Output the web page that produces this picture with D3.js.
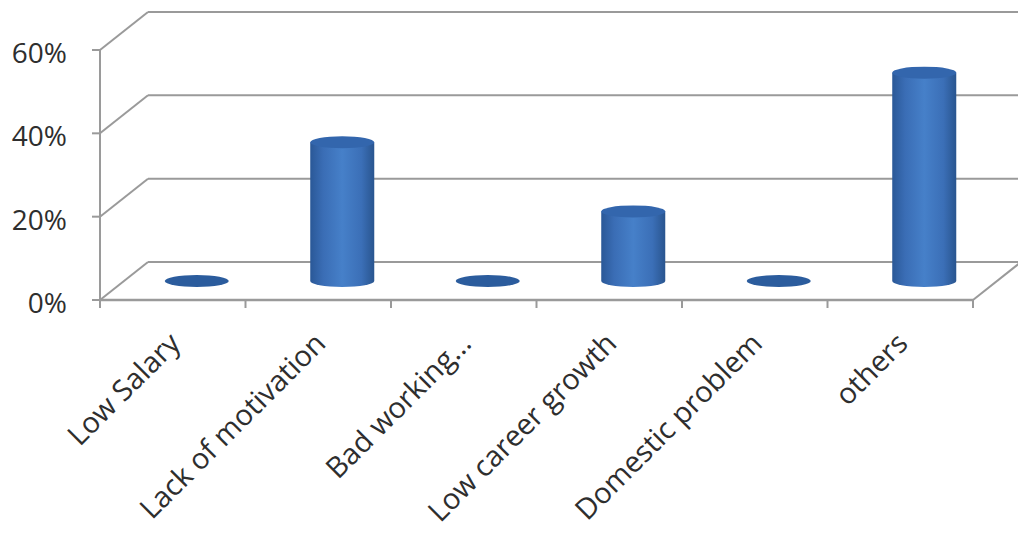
<!DOCTYPE html>
<html>
<head>
<meta charset="utf-8">
<script src="https://cdn.jsdelivr.net/npm/d3@7"></script>
<style>
  html, body { margin: 0; padding: 0; background: #fff; }
  svg { display: block; }
  text { font-family: "Open Sans", "Noto Sans", sans-serif; fill: #2e2e2e; }
</style>
</head>
<body>
<svg id="chart" width="1018" height="544"></svg>
<script>
// Reasons for leaving, share of respondents
const categories = ["Low Salary", "Lack of motivation", "Bad working...", "Low career growth", "Domestic problem", "others"];
const shares = [0, 0.333, 0, 0.167, 0, 0.50];
const yTicks = [0, 0.2, 0.4, 0.6];

const svg = d3.select("#chart");
const W = 1018;

// Front plane of the 3D box and the depth offset of the back wall
const x = d3.scaleBand().domain(categories).range([100, 973]);
const y = d3.scaleLinear().domain([0, 0.6]).range([300, 50]);
const depth = { dx: 48, dy: -38 };
const fmt = d3.format(".0%");

const defs = svg.append("defs");
const bodyGrad = defs.append("linearGradient").attr("id", "cylBody")
  .attr("x1", "0").attr("x2", "1").attr("y1", "0").attr("y2", "0");
[["0%", "#2a5897"], ["20%", "#3a6db5"], ["50%", "#4680c9"], ["80%", "#3b6fb7"], ["100%", "#29558f"]]
  .forEach(([o, c]) => bodyGrad.append("stop").attr("offset", o).attr("stop-color", c));

const gridColor = "#9a9a9a";
const grid = svg.append("g");

// Back wall gridlines and the side-wall diagonals
yTicks.forEach(t => {
  const fy = y(t);
  grid.append("line")
    .attr("x1", x.range()[0] + depth.dx).attr("y1", fy + depth.dy)
    .attr("x2", W + 10).attr("y2", fy + depth.dy)
    .attr("stroke", gridColor).attr("stroke-width", 2);
  grid.append("line")
    .attr("x1", x.range()[0]).attr("y1", fy)
    .attr("x2", x.range()[0] + depth.dx).attr("y2", fy + depth.dy)
    .attr("stroke", gridColor).attr("stroke-width", 2);
});
// Floor right edge
grid.append("line")
  .attr("x1", x.range()[1]).attr("y1", y(0))
  .attr("x2", x.range()[1] + depth.dx).attr("y2", y(0) + depth.dy)
  .attr("stroke", gridColor).attr("stroke-width", 2);

// Value axis
const yAxis = svg.append("g");
yAxis.append("line")
  .attr("x1", x.range()[0]).attr("x2", x.range()[0])
  .attr("y1", y(0.6)).attr("y2", y(0))
  .attr("stroke", gridColor).attr("stroke-width", 2);
yAxis.selectAll("line.tick").data(yTicks).join("line").attr("class", "tick")
  .attr("x1", x.range()[0] - 8).attr("x2", x.range()[0])
  .attr("y1", d => y(d)).attr("y2", d => y(d))
  .attr("stroke", gridColor).attr("stroke-width", 2);
yAxis.selectAll("text").data(yTicks).join("text")
  .attr("x", 67).attr("y", d => y(d) + 3).attr("dy", "0.36em")
  .attr("text-anchor", "end").attr("font-size", 28)
  .text(d => fmt(d));

// Cylinders, standing midway through the depth of the box
const rx = x.bandwidth() * 0.22, ry = 6;
const bars = svg.append("g");
categories.forEach((c, i) => {
  const v = shares[i];
  const cx = x(c) + x.bandwidth() / 2 + depth.dx / 2;
  const yb = y(0) + depth.dy / 2;
  const yt = y(v) + depth.dy / 2;
  if (v > 0) {
    bars.append("path")
      .attr("d", `M${cx - rx},${yt} L${cx - rx},${yb} A${rx},${ry} 0 0 0 ${cx + rx},${yb} L${cx + rx},${yt} Z`)
      .attr("fill", "url(#cylBody)");
  }
  bars.append("ellipse")
    .attr("cx", cx).attr("cy", yt).attr("rx", rx).attr("ry", ry)
    .attr("fill", v > 0 ? "#3366ad" : "#2b5c9d");
});

// Category axis along the front edge of the floor
const xAxis = svg.append("g");
xAxis.append("line")
  .attr("x1", x.range()[0]).attr("x2", x.range()[1])
  .attr("y1", y(0)).attr("y2", y(0))
  .attr("stroke", gridColor).attr("stroke-width", 2.5);
const edges = categories.map(c => x(c)).concat([x.range()[1]]);
xAxis.selectAll("line.tick").data(edges).join("line").attr("class", "tick")
  .attr("x1", d => d).attr("x2", d => d)
  .attr("y1", y(0)).attr("y2", y(0) + 8)
  .attr("stroke", gridColor).attr("stroke-width", 2);
xAxis.selectAll("text").data(categories).join("text")
  .attr("transform", d => `translate(${x(d) + x.bandwidth() / 2 + 2},${y(0) + 38}) rotate(-45)`)
  .attr("text-anchor", "end").attr("dy", "0.35em").attr("font-size", 29)
  .text(d => d);
</script>
</body>
</html>
